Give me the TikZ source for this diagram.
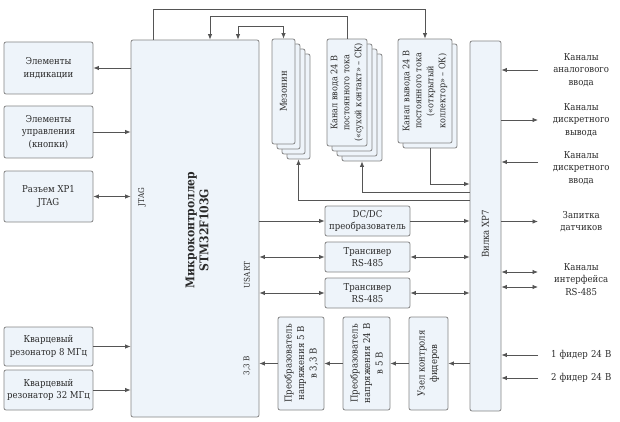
\documentclass[tikz,border=0pt]{standalone}
\usepackage{fontspec}
\setmainfont{DejaVu Serif Condensed}
\usetikzlibrary{arrows.meta,calc}
\definecolor{boxfill}{HTML}{EEF4FA}
\definecolor{boxline}{HTML}{858585}
\definecolor{wireclr}{HTML}{555555}
\definecolor{txtclr}{HTML}{2A2A2A}

\begin{document}
\begin{tikzpicture}[
  x=1pt, y=-1pt,
  every node/.style={font=\fontsize{9.5}{12.5}\selectfont, text=txtclr},
  box/.style={draw=boxline, fill=boxfill, rounded corners=2pt, align=center, inner sep=1pt, line width=0.8pt},
  vbox/.style={box, rotate=90},
  lbl/.style={align=center, text width=68pt, inner xsep=9pt, anchor=west, font=\fontsize{9.5}{12.5}\selectfont},
  wire/.style={draw=wireclr, line width=0.8pt},
  >={Latex[length=5.5pt,width=4.5pt]}
]
\useasboundingbox (0,0) rectangle (620,422);

% left column
\node[box, minimum width=89pt, minimum height=52pt] (ind) at (48.5,68)   {Элементы\\индикации};
\node[box, minimum width=89pt, minimum height=52pt] (ctl) at (48.5,132)  {Элементы\\управления\\(кнопки)};
\node[box, minimum width=89pt, minimum height=51pt] (xp1) at (48.5,196.5) {Разъем XP1\\JTAG};
\node[box, minimum width=89pt, minimum height=39pt] (q8)  at (48.5,346.5) {Кварцевый\\резонатор 8 МГц};
\node[box, minimum width=89pt, minimum height=40pt] (q32) at (48.5,390)  {Кварцевый\\резонатор 32 МГц};

% microcontroller
\node[box, minimum width=128pt, minimum height=377pt] (mcu) at (195,228.5) {};
\node[rotate=90, align=center, font=\bfseries\fontsize{12}{14}\selectfont] (mcut) at (197,230) {Микроконтроллер\\STM32F103G};
\node[rotate=90, font=\fontsize{8}{10}\selectfont] (jtag)  at (142,197) {JTAG};
\node[rotate=90, font=\fontsize{8}{10}\selectfont] (usart) at (247,275) {USART};
\node[rotate=90, font=\fontsize{8}{10}\selectfont] (v33)   at (247,366) {3,3 В};

% stacked modules
\foreach \i in {3,2,1}
  \node[vbox, minimum width=105pt, minimum height=23pt] (mez\i) at (283.5+5*\i,91.5+5*\i) {};
\node[vbox, minimum width=105pt, minimum height=23pt] (mez) at (283.5,91.5) {Мезонин};

\foreach \i in {3,2,1}
  \node[vbox, minimum width=107pt, minimum height=40pt] (sk\i) at (347+5*\i,92.5+5*\i) {};
\node[vbox, minimum width=107pt, minimum height=40pt, font=\fontsize{9}{12}\selectfont] (sk) at (347,92.5)
  {Канал ввода 24 В\\постоянного тока\\(«сухой контакт» – СК)};

\node[vbox, minimum width=104pt, minimum height=54pt] (ok1) at (430,96) {};
\node[vbox, minimum width=104pt, minimum height=54pt, font=\fontsize{9}{12}\selectfont] (ok) at (425,91)
  {Канал вывода 24 В\\постоянного тока\\(«открытый\\коллектор» – ОК)};

% connector XP7
\node[box, minimum width=31pt, minimum height=370pt] (xp7) at (485.5,226) {};
\node[rotate=90] (xp7t) at (485.5,234) {Вилка XP7};

% middle blocks
\node[box, minimum width=85pt, minimum height=30pt] (dcdc) at (367.5,221) {DC/DC\\преобразователь};
\node[box, minimum width=85pt, minimum height=30pt] (tr1)  at (367.5,257) {Трансивер\\RS-485};
\node[box, minimum width=85pt, minimum height=30pt] (tr2)  at (367.5,293) {Трансивер\\RS-485};

\node[vbox, minimum width=93pt, minimum height=46pt] (p53)  at (301,363.5)   {Преобразователь\\напряжения 5 В\\в 3,3 В};
\node[vbox, minimum width=93pt, minimum height=47pt] (p245) at (366.5,363.5) {Преобразователь\\напряжения 24 В\\в 5 В};
\node[vbox, minimum width=93pt, minimum height=39pt] (uzel) at (428.5,363.5) {Узел контроля\\фидеров};

% outside labels
\node[lbl] (ain)  at (538,70)    {Каналы\\аналогового\\ввода};
\node[lbl] (dout) at (538,120)   {Каналы\\дискретного\\вывода};
\node[lbl] (din)  at (538,168)   {Каналы\\дискретного\\ввода};
\node[lbl] (pwr)  at (538,221.5) {Запитка\\датчиков};
\node[lbl] (rs)   at (538,279.5) {Каналы\\интерфейса\\RS-485};
\node[lbl] (f1)   at (538,355)   {1 фидер 24 В};
\node[lbl] (f2)   at (538,378)   {2 фидер 24 В};

% left links
\draw[wire,->]  (mcu.west |- ind) -- (ind);
\draw[wire,->]  (ctl) -- (mcu.west |- ctl);
\draw[wire,<->] (xp1) -- (mcu.west |- xp1);
\draw[wire,->]  (q8) -- (mcu.west |- q8);
\draw[wire,->]  (q32) -- (mcu.west |- q32);

% top links
\draw[wire,->]  ([xshift=-42pt]mcu.north) -- ++(0,-30) -| (ok);
\draw[wire,->]  (sk.east) -- ++(0,-22) -| ([xshift=15pt]mcu.north);
\draw[wire,<->] ([xshift=43pt]mcu.north) -- ++(0,-13) -| (mez);

% links under the modules
\draw[wire,->] ([yshift=26pt]xp7.west) -| (mez3);
\draw[wire,->] ([yshift=34pt]xp7.west) -| (sk3);
\draw[wire,->] (ok1) |- ([yshift=42pt]xp7.west);

% middle links
\draw[wire,->]  (mcu.east |- dcdc) -- (dcdc);
\draw[wire,->]  (dcdc) -- (xp7.west |- dcdc);
\draw[wire,<->] (mcu.east |- tr1) -- (tr1);
\draw[wire,<->] (tr1) -- (xp7.west |- tr1);
\draw[wire,<->] (mcu.east |- tr2) -- (tr2);
\draw[wire,<->] (tr2) -- (xp7.west |- tr2);

% power chain
\draw[wire,->] (xp7.west |- uzel) -- (uzel);
\draw[wire,->] (uzel) -- (p245);
\draw[wire,->] (p245) -- (p53);
\draw[wire,->] (p53) -- (mcu.east |- p53);

% right links
\draw[wire,->]  (ain) -- (xp7.east |- ain);
\draw[wire,->]  (xp7.east |- dout) -- (dout);
\draw[wire,->]  ($(din.west)+(0,-6)$) -- ($(xp7.east |- din)+(0,-6)$);
\draw[wire,->]  (xp7.east |- pwr) -- (pwr);
\draw[wire,<->] ($(xp7.east |- rs)+(0,-7.5)$) -- ($(rs.west)+(0,-7.5)$);
\draw[wire,<->] ($(xp7.east |- rs)+(0,7.5)$) -- ($(rs.west)+(0,7.5)$);
\draw[wire,->]  (f1) -- (xp7.east |- f1);
\draw[wire,->]  (f2) -- (xp7.east |- f2);
\end{tikzpicture}
\end{document}
